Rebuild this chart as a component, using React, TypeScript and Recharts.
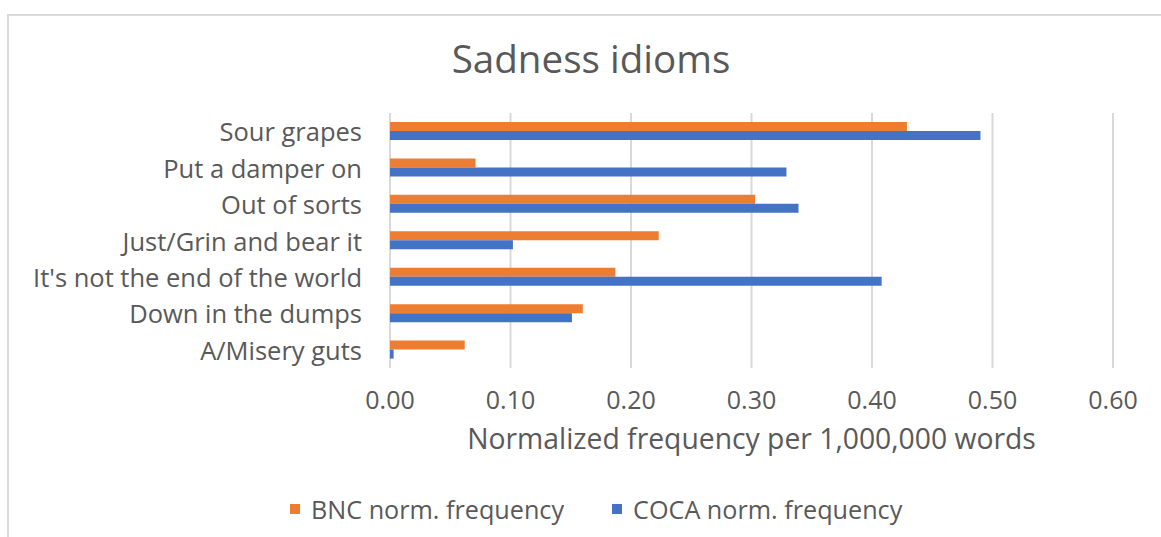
import React from 'react';
import { BarChart, Bar, XAxis, YAxis, CartesianGrid, Legend } from 'recharts';

const categories = [
  'Sour grapes',
  'Put a damper on',
  'Out of sorts',
  'Just/Grin and bear it',
  "It's not the end of the world",
  'Down in the dumps',
  'A/Misery guts',
];
const bncValues = [0.429, 0.071, 0.303, 0.223, 0.187, 0.16, 0.062];
const cocaValues = [0.49, 0.329, 0.339, 0.102, 0.408, 0.151, 0.003];
const xTicks = [0, 0.1, 0.2, 0.3, 0.4, 0.5, 0.6];
const seriesNames = ['BNC norm. frequency', 'COCA norm. frequency'];
const seriesColors = ['#ED7D31', '#4472C4'];

const data = categories.map((name, i) => ({ name, bnc: bncValues[i], coca: cocaValues[i] }));

const FONT = '"Open Sans", sans-serif';
const TEXT = '#595959';

const YTick = (props: any) => {
  const { x, y, payload } = props;
  return (
    <text x={x - 28} y={y} textAnchor="end" dominantBaseline="central" fill={TEXT} fontSize={25.5} fontFamily={FONT}>
      {payload.value}
    </text>
  );
};

const XTick = (props: any) => {
  const { x, y, payload } = props;
  return (
    <text x={x} y={y + 31} textAnchor="middle" dominantBaseline="central" fill={TEXT} fontSize={25} fontFamily={FONT}>
      {Number(payload.value).toFixed(2)}
    </text>
  );
};

const XLabel = (props: any) => {
  const vb = props.viewBox || {};
  return (
    <text x={vb.x + vb.width / 2} y={vb.y + 70} textAnchor="middle" dominantBaseline="central" fill={TEXT} fontSize={28.3} fontFamily={FONT}>
      Normalized frequency per 1,000,000 words
    </text>
  );
};

const LegendContent = () => (
  <div style={{ display: 'flex', alignItems: 'center', height: 30, paddingLeft: 290, fontFamily: FONT, fontSize: 25.2, color: TEXT }}>
    {seriesNames.map((n, i) => (
      <div key={n} style={{ display: 'flex', alignItems: 'center', marginRight: 48 }}>
        <span style={{ display: 'inline-block', width: 10, height: 10, background: seriesColors[i], marginRight: 11 }} />
        <span>{n}</span>
      </div>
    ))}
  </div>
);

export default function App() {
  return (
    <div style={{ position: 'absolute', left: 0, top: 0, width: 1161, height: 537, background: '#fff', overflow: 'hidden' }}>
      <div style={{ position: 'absolute', left: 7, top: 14, width: 1200, height: 600, borderTop: '2px solid #d9d9d9', borderLeft: '2px solid #d9d9d9' }} />
      <div style={{ position: 'absolute', left: 591, top: 58, transform: 'translate(-50%, -50%)', fontFamily: FONT, fontSize: 38.6, color: TEXT, whiteSpace: 'nowrap' }}>
        Sadness idioms
      </div>
      <BarChart
        width={1161}
        height={537}
        data={data}
        layout="vertical"
        margin={{ top: 113, right: 48, left: 0, bottom: 49 }}
        barGap={0}
        barSize={9}
      >
        <CartesianGrid horizontal={false} stroke="#d9d9d9" strokeWidth={2} />
        <XAxis
          type="number"
          domain={[0, 0.6]}
          ticks={xTicks}
          axisLine={false}
          tickLine={false}
          tickSize={0}
          tickMargin={0}
          height={90}
          tick={<XTick />}
          label={<XLabel />}
          interval={0}
        />
        <YAxis
          type="category"
          dataKey="name"
          width={390}
          axisLine={false}
          tickLine={false}
          tickSize={0}
          tickMargin={0}
          tick={<YTick />}
          interval={0}
        />
        <Legend verticalAlign="bottom" content={<LegendContent />} wrapperStyle={{ top: 494, left: 0, width: 1161, height: 30 }} />
        <Bar dataKey="bnc" name={seriesNames[0]} fill={seriesColors[0]} isAnimationActive={false} />
        <Bar dataKey="coca" name={seriesNames[1]} fill={seriesColors[1]} isAnimationActive={false} />
      </BarChart>
    </div>
  );
}
